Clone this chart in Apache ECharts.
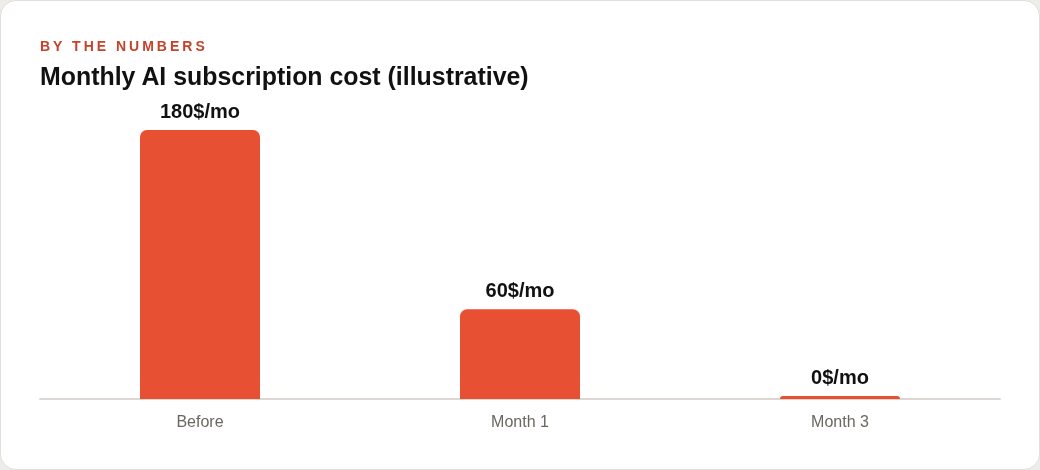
<!DOCTYPE html>
<html><head><meta charset="utf-8">
<script src="https://cdn.jsdelivr.net/npm/echarts@6/dist/echarts.min.js"></script>
<style>
html,body{margin:0;padding:0;background:#eeece8;}
#card{position:absolute;left:0;top:0;width:1040px;height:470px;box-sizing:border-box;background:#fff;border:1px solid #e2dfda;border-radius:16px;overflow:hidden;}
#kicker{position:absolute;left:39px;top:36px;font-family:"Liberation Sans",Arial,sans-serif;font-weight:bold;font-size:14px;letter-spacing:3px;color:#c4432b;line-height:18px;}
#title{position:absolute;left:39px;top:60px;font-family:"Liberation Sans",Arial,sans-serif;font-weight:bold;font-size:24.9px;color:#111;line-height:30px;}
#chart{position:absolute;left:-1px;top:-1px;width:1040px;height:470px;}
</style></head>
<body>
<div id="card">
<div id="chart"></div>
<div id="kicker">BY THE NUMBERS</div>
<div id="title">Monthly AI subscription cost (illustrative)</div>
</div>
<script>
const categories = ["Before", "Month 1", "Month 3"];
const costs = [180, 60, 0];
const unit = "$/mo";

const chart = echarts.init(document.getElementById('chart'), null, {renderer:'canvas'});
chart.setOption({
  animation:false,
  grid:{left:40,right:40,top:130,bottom:71,containLabel:false},
  xAxis:{type:'category',data:categories,
    axisLine:{show:true,lineStyle:{color:'#dcd7d2',width:2}},
    axisTick:{show:false},
    axisLabel:{color:'#6b665f',fontSize:16,fontFamily:'Liberation Sans, Arial, sans-serif',margin:16}},
  yAxis:{type:'value',min:0,max:180,show:false,splitLine:{show:false}},
  series:[{type:'bar',data:costs,barWidth:120,barMinHeight:3,
    itemStyle:{color:'#e85034',borderRadius:[7,7,0,0]},
    label:{show:true,position:'top',distance:8,formatter:p=>p.value+unit,
      color:'#111',fontWeight:'bold',fontSize:20,fontFamily:'Liberation Sans, Arial, sans-serif'}}]
});
</script>
</body></html>
